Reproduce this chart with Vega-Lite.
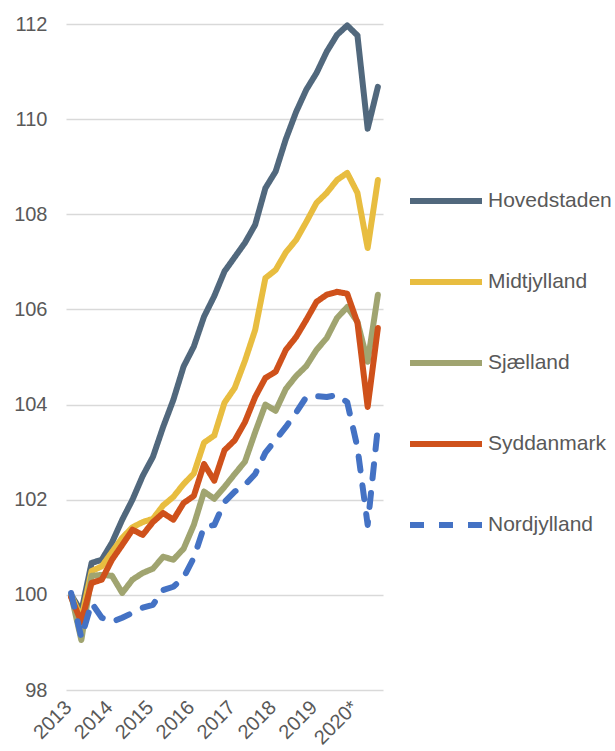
{
"$schema": "https://vega.github.io/schema/vega-lite/v6.json",
"width": 317,
"height": 666,
"autosize": {"type": "none"},
"padding": {"left": 66, "top": 24, "right": 232, "bottom": 61},
"background": "white",
"config": {"view": {"stroke": null}, "font": "Liberation Sans"},
"data": {"values": [
{"period":"2013K1","region":"Hovedstaden","value":100.0},{"period":"2013K2","region":"Hovedstaden","value":99.65},{"period":"2013K3","region":"Hovedstaden","value":100.67},{"period":"2013K4","region":"Hovedstaden","value":100.74},
{"period":"2014K1","region":"Hovedstaden","value":101.1},{"period":"2014K2","region":"Hovedstaden","value":101.58},{"period":"2014K3","region":"Hovedstaden","value":102.0},{"period":"2014K4","region":"Hovedstaden","value":102.5},
{"period":"2015K1","region":"Hovedstaden","value":102.9},{"period":"2015K2","region":"Hovedstaden","value":103.53},{"period":"2015K3","region":"Hovedstaden","value":104.1},{"period":"2015K4","region":"Hovedstaden","value":104.8},
{"period":"2016K1","region":"Hovedstaden","value":105.22},{"period":"2016K2","region":"Hovedstaden","value":105.85},{"period":"2016K3","region":"Hovedstaden","value":106.28},{"period":"2016K4","region":"Hovedstaden","value":106.8},
{"period":"2017K1","region":"Hovedstaden","value":107.1},{"period":"2017K2","region":"Hovedstaden","value":107.4},{"period":"2017K3","region":"Hovedstaden","value":107.78},{"period":"2017K4","region":"Hovedstaden","value":108.55},
{"period":"2018K1","region":"Hovedstaden","value":108.9},{"period":"2018K2","region":"Hovedstaden","value":109.58},{"period":"2018K3","region":"Hovedstaden","value":110.15},{"period":"2018K4","region":"Hovedstaden","value":110.62},
{"period":"2019K1","region":"Hovedstaden","value":110.97},{"period":"2019K2","region":"Hovedstaden","value":111.42},{"period":"2019K3","region":"Hovedstaden","value":111.77},{"period":"2019K4","region":"Hovedstaden","value":111.97},
{"period":"2020K1","region":"Hovedstaden","value":111.76},{"period":"2020K2","region":"Hovedstaden","value":109.8},{"period":"2020K3","region":"Hovedstaden","value":110.68},

{"period":"2013K1","region":"Midtjylland","value":100.0},{"period":"2013K2","region":"Midtjylland","value":99.5},{"period":"2013K3","region":"Midtjylland","value":100.5},{"period":"2013K4","region":"Midtjylland","value":100.6},
{"period":"2014K1","region":"Midtjylland","value":100.9},{"period":"2014K2","region":"Midtjylland","value":101.2},{"period":"2014K3","region":"Midtjylland","value":101.42},{"period":"2014K4","region":"Midtjylland","value":101.53},
{"period":"2015K1","region":"Midtjylland","value":101.6},{"period":"2015K2","region":"Midtjylland","value":101.88},{"period":"2015K3","region":"Midtjylland","value":102.06},{"period":"2015K4","region":"Midtjylland","value":102.33},
{"period":"2016K1","region":"Midtjylland","value":102.55},{"period":"2016K2","region":"Midtjylland","value":103.2},{"period":"2016K3","region":"Midtjylland","value":103.35},{"period":"2016K4","region":"Midtjylland","value":104.04},
{"period":"2017K1","region":"Midtjylland","value":104.35},{"period":"2017K2","region":"Midtjylland","value":104.92},{"period":"2017K3","region":"Midtjylland","value":105.57},{"period":"2017K4","region":"Midtjylland","value":106.66},
{"period":"2018K1","region":"Midtjylland","value":106.83},{"period":"2018K2","region":"Midtjylland","value":107.2},{"period":"2018K3","region":"Midtjylland","value":107.46},{"period":"2018K4","region":"Midtjylland","value":107.84},
{"period":"2019K1","region":"Midtjylland","value":108.24},{"period":"2019K2","region":"Midtjylland","value":108.45},{"period":"2019K3","region":"Midtjylland","value":108.72},{"period":"2019K4","region":"Midtjylland","value":108.87},
{"period":"2020K1","region":"Midtjylland","value":108.45},{"period":"2020K2","region":"Midtjylland","value":107.29},{"period":"2020K3","region":"Midtjylland","value":108.72},

{"period":"2013K1","region":"Sjælland","value":100.0},{"period":"2013K2","region":"Sjælland","value":99.05},{"period":"2013K3","region":"Sjælland","value":100.4},{"period":"2013K4","region":"Sjælland","value":100.42},
{"period":"2014K1","region":"Sjælland","value":100.4},{"period":"2014K2","region":"Sjælland","value":100.04},{"period":"2014K3","region":"Sjælland","value":100.32},{"period":"2014K4","region":"Sjælland","value":100.46},
{"period":"2015K1","region":"Sjælland","value":100.55},{"period":"2015K2","region":"Sjælland","value":100.8},{"period":"2015K3","region":"Sjælland","value":100.74},{"period":"2015K4","region":"Sjælland","value":100.97},
{"period":"2016K1","region":"Sjælland","value":101.47},{"period":"2016K2","region":"Sjælland","value":102.17},{"period":"2016K3","region":"Sjælland","value":102.02},{"period":"2016K4","region":"Sjælland","value":102.27},
{"period":"2017K1","region":"Sjælland","value":102.54},{"period":"2017K2","region":"Sjælland","value":102.8},{"period":"2017K3","region":"Sjælland","value":103.42},{"period":"2017K4","region":"Sjælland","value":104.0},
{"period":"2018K1","region":"Sjælland","value":103.87},{"period":"2018K2","region":"Sjælland","value":104.33},{"period":"2018K3","region":"Sjælland","value":104.6},{"period":"2018K4","region":"Sjælland","value":104.81},
{"period":"2019K1","region":"Sjælland","value":105.15},{"period":"2019K2","region":"Sjælland","value":105.4},{"period":"2019K3","region":"Sjælland","value":105.82},{"period":"2019K4","region":"Sjælland","value":106.05},
{"period":"2020K1","region":"Sjælland","value":105.74},{"period":"2020K2","region":"Sjælland","value":104.9},{"period":"2020K3","region":"Sjælland","value":106.31},

{"period":"2013K1","region":"Syddanmark","value":99.95},{"period":"2013K2","region":"Syddanmark","value":99.43},{"period":"2013K3","region":"Syddanmark","value":100.25},{"period":"2013K4","region":"Syddanmark","value":100.32},
{"period":"2014K1","region":"Syddanmark","value":100.74},{"period":"2014K2","region":"Syddanmark","value":101.05},{"period":"2014K3","region":"Syddanmark","value":101.37},{"period":"2014K4","region":"Syddanmark","value":101.26},
{"period":"2015K1","region":"Syddanmark","value":101.53},{"period":"2015K2","region":"Syddanmark","value":101.72},{"period":"2015K3","region":"Syddanmark","value":101.58},{"period":"2015K4","region":"Syddanmark","value":101.93},
{"period":"2016K1","region":"Syddanmark","value":102.08},{"period":"2016K2","region":"Syddanmark","value":102.75},{"period":"2016K3","region":"Syddanmark","value":102.4},{"period":"2016K4","region":"Syddanmark","value":103.04},
{"period":"2017K1","region":"Syddanmark","value":103.25},{"period":"2017K2","region":"Syddanmark","value":103.63},{"period":"2017K3","region":"Syddanmark","value":104.16},{"period":"2017K4","region":"Syddanmark","value":104.56},
{"period":"2018K1","region":"Syddanmark","value":104.69},{"period":"2018K2","region":"Syddanmark","value":105.15},{"period":"2018K3","region":"Syddanmark","value":105.42},{"period":"2018K4","region":"Syddanmark","value":105.78},
{"period":"2019K1","region":"Syddanmark","value":106.16},{"period":"2019K2","region":"Syddanmark","value":106.31},{"period":"2019K3","region":"Syddanmark","value":106.37},{"period":"2019K4","region":"Syddanmark","value":106.33},
{"period":"2020K1","region":"Syddanmark","value":105.72},{"period":"2020K2","region":"Syddanmark","value":103.95},{"period":"2020K3","region":"Syddanmark","value":105.61},

{"period":"2013K1","region":"Nordjylland","value":100.04},{"period":"2013K2","region":"Nordjylland","value":99.1},{"period":"2013K3","region":"Nordjylland","value":99.83},{"period":"2013K4","region":"Nordjylland","value":99.52},
{"period":"2014K1","region":"Nordjylland","value":99.43},{"period":"2014K2","region":"Nordjylland","value":99.52},{"period":"2014K3","region":"Nordjylland","value":99.62},{"period":"2014K4","region":"Nordjylland","value":99.73},
{"period":"2015K1","region":"Nordjylland","value":99.79},{"period":"2015K2","region":"Nordjylland","value":100.1},{"period":"2015K3","region":"Nordjylland","value":100.17},{"period":"2015K4","region":"Nordjylland","value":100.36},
{"period":"2016K1","region":"Nordjylland","value":100.78},{"period":"2016K2","region":"Nordjylland","value":101.43},{"period":"2016K3","region":"Nordjylland","value":101.47},{"period":"2016K4","region":"Nordjylland","value":101.95},
{"period":"2017K1","region":"Nordjylland","value":102.17},{"period":"2017K2","region":"Nordjylland","value":102.31},{"period":"2017K3","region":"Nordjylland","value":102.54},{"period":"2017K4","region":"Nordjylland","value":102.99},
{"period":"2018K1","region":"Nordjylland","value":103.26},{"period":"2018K2","region":"Nordjylland","value":103.53},{"period":"2018K3","region":"Nordjylland","value":103.83},{"period":"2018K4","region":"Nordjylland","value":104.16},
{"period":"2019K1","region":"Nordjylland","value":104.18},{"period":"2019K2","region":"Nordjylland","value":104.16},{"period":"2019K3","region":"Nordjylland","value":104.2},{"period":"2019K4","region":"Nordjylland","value":104.05},
{"period":"2020K1","region":"Nordjylland","value":103.1},{"period":"2020K2","region":"Nordjylland","value":101.47},{"period":"2020K3","region":"Nordjylland","value":103.53}
]},
"mark": {"type": "line", "strokeWidth": 6, "strokeCap": "round", "strokeJoin": "round"},
"encoding": {
"x": {"field": "period", "type": "ordinal", "sort": null,
 "scale": {"type": "point", "padding": 0.5},
 "axis": {"title": null, "domain": false, "ticks": false, "grid": false, "labelAngle": -45, "labelAlign": "right", "labelBaseline": "middle",
  "labelFontSize": 20, "labelColor": "#595959", "labelPadding": 14, "labelOffset": -3, "labelOverlap": false, "labelBound": false,
  "labelExpr": "slice(datum.value, 4) == 'K1' ? (slice(datum.value, 0, 4) == '2020' ? '2020*' : slice(datum.value, 0, 4)) : ''"}},
"y": {"field": "value", "type": "quantitative",
 "scale": {"domain": [98, 112], "nice": false, "zero": false},
 "axis": {"title": null, "domain": false, "ticks": false, "values": [98, 100, 102, 104, 106, 108, 110, 112], "grid": true, "gridColor": "#D9D9D9", "gridWidth": 1.5,
  "labelFontSize": 20, "labelColor": "#595959", "labelPadding": 19}},
"color": {"field": "region", "type": "nominal",
 "scale": {"domain": ["Hovedstaden", "Midtjylland", "Sjælland", "Syddanmark", "Nordjylland"], "range": ["#51687D", "#E8BD40", "#A0A470", "#CF511B", "#4472C4"]},
 "legend": {"title": null, "orient": "none", "legendX": 341, "legendY": 138, "symbolType": "stroke", "symbolSize": 5184, "symbolStrokeWidth": 6, "labelFontSize": 21, "labelColor": "#595959", "labelOffset": 3, "rowPadding": 30}},
"strokeDash": {"field": "region", "type": "nominal",
 "scale": {"domain": ["Hovedstaden", "Midtjylland", "Sjælland", "Syddanmark", "Nordjylland"], "range": [[1, 0], [1, 0], [1, 0], [1, 0], [14, 15]]},
 "legend": {"title": null, "orient": "none", "legendX": 341, "legendY": 138, "symbolType": "stroke", "symbolSize": 5184, "symbolStrokeWidth": 6, "labelFontSize": 21, "labelColor": "#595959", "labelOffset": 3, "rowPadding": 30}}
}
}
